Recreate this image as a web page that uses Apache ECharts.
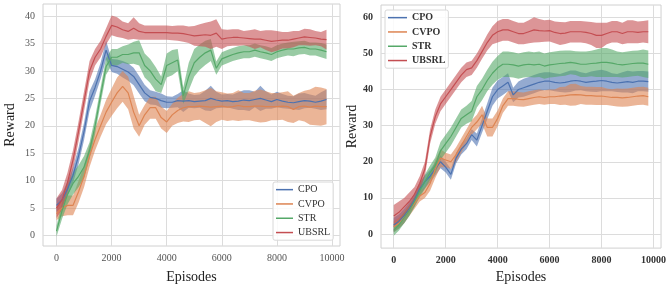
<!DOCTYPE html>
<html>
<head>
<meta charset="utf-8">
<script src="https://cdn.jsdelivr.net/npm/echarts@6/dist/echarts.min.js"></script>
<style>
html, body { margin: 0; padding: 0; background: #fff; }
#main { width: 669px; height: 289px; }
</style>
</head>
<body>
<div id="main"></div>
<script>
var episodes = [0, 200, 400, 600, 800, 1000, 1200, 1400, 1600, 1800,
    2000, 2200, 2400, 2600, 2800, 3000, 3200, 3400, 3600, 3800,
    4000, 4200, 4400, 4600, 4800, 5000, 5200, 5400, 5600, 5800,
    6000, 6200, 6400, 6600, 6800, 7000, 7200, 7400, 7600, 7800,
    8000, 8200, 8400, 8600, 8800, 9000, 9200, 9400, 9600, 9800];
var names = ['CPO', 'CVPO', 'STR', 'UBSRL'];
var xTicks = [0, 2000, 4000, 6000, 8000, 10000];
var yTicksLeft = [0, 5, 10, 15, 20, 25, 30, 35, 40];
var yTicksRight = [0, 10, 20, 30, 40, 50, 60];

// left panel: mean and half width of the band
var leftCpo = [5.5, 6.5, 8.5, 11, 14.5, 19, 24.5, 27, 30, 33.8, 31, 30.8, 30.3, 29.8, 29, 27.5, 26, 25.2, 25, 24.6,
    24.3, 24.3, 24.6, 24.5, 24.6, 24.4, 24.5, 24.6, 25, 24.7, 24.5, 24.6, 24.4, 24.5, 24.7, 24.6, 24.8, 25, 24.7, 24.4,
    24.8, 24.5, 24.3, 24.2, 24.4, 24.6, 24.5, 24.3, 24.5, 24.8];
var leftCpoBand = [1.2, 1.2, 1.3, 1.4, 1.5, 1.6, 1.8, 1.5, 1.5, 1.7, 1.2, 1.3, 1.5, 1.6, 1.6, 1.6, 1.5, 1.3, 1.2, 1.3,
    1.1, 1.0, 1.2, 2.0, 1.3, 1.2, 1.2, 1.8, 2.3, 1.5, 1.2, 1.2, 1.3, 1.6, 1.8, 1.9, 1.4, 2.3, 1.6, 1.3,
    1.4, 1.3, 1.2, 1.2, 1.5, 1.4, 1.2, 1.2, 1.6, 1.8];
var leftCvpo = [4, 5, 5.5, 5.5, 8, 10.8, 14.5, 17.5, 20, 22.5, 24.3, 26, 27.2, 26, 22.5, 20, 22, 23.3, 23.3, 21.5,
    20.7, 22, 22.8, 23.3, 23.5, 23.5, 23.6, 23.5, 23.4, 23.5, 23.6, 23.4, 23.5, 23.7, 23.5, 23.5, 23.6, 23.6, 23.5, 23.5,
    23.5, 23.6, 23.5, 23, 23.5, 23.6, 23.4, 23.6, 23.5, 23.5];
var leftCvpoBand = [1.2, 1.5, 1.8, 1.8, 2, 2, 2, 2, 2, 2.2, 2.5, 2.8, 2.8, 3, 3, 2, 1.8, 2, 2, 2,
    2, 2, 2.3, 2.5, 2.8, 2.5, 2.5, 3, 3.5, 2.8, 2.5, 2.5, 2.5, 2.8, 2.5, 2.5, 2.8, 3, 2.8, 2.5,
    2.5, 2.5, 2.8, 2.5, 2.5, 2.8, 3.2, 3.5, 3.5, 3.2];
var leftStr = [0.8, 4.5, 7.5, 9.5, 10.8, 12.5, 15.5, 20, 25.5, 30.8, 32.5, 32.5, 33, 33, 33.3, 33.3, 31, 30, 28.5, 27.5,
    31, 31.5, 32, 25.5, 29, 31.5, 32.5, 33.3, 33.8, 30.5, 32.2, 32.6, 33, 33.3, 33.5, 33.5, 33.8, 33.5, 33.3, 33,
    33.5, 33.8, 34, 34, 34.2, 34.3, 34, 34, 33.8, 33.5];
var leftStrBand = [1, 1.5, 1.8, 2, 2, 2, 1.5, 1.5, 1.5, 1.5, 1.5, 1.5, 1.5, 1.8, 2, 2.3, 2.2, 2.2, 2.2, 1.5,
    2.2, 2.3, 2, 1.5, 2.5, 2.5, 2.3, 2.2, 2, 1.2, 1.2, 1.2, 1.2, 1.2, 1.2, 1.2, 1.2, 1.2, 1.2, 1.2,
    1.2, 1.2, 1.2, 1.3, 1.2, 1.2, 1.2, 1.2, 1.3, 1.3];
var leftUbsrl = [5, 6.5, 9.7, 13.8, 19, 24.5, 30, 32.5, 34, 36.3, 38.3, 38, 37.5, 37.2, 37.8, 37.2, 37, 37, 37, 37,
    37, 36.9, 36.9, 36.8, 36.6, 36.4, 36.5, 36.6, 36.5, 36.9, 35.8, 36, 36.1, 36.1, 36, 35.9, 35.8, 35.8, 35.6, 35.4,
    35.5, 35.6, 35.6, 35.8, 36, 36.2, 36.1, 36, 35.8, 35.7];
var leftUbsrlBand = [1.8, 1.8, 1.8, 1.8, 1.8, 1.8, 1.8, 1.5, 1.5, 1.5, 1.8, 1.8, 1.5, 1.5, 2, 1.5, 1.3, 1.3, 1.3, 1.3,
    1.3, 1.3, 1.4, 1.5, 1.5, 1.8, 2, 2.2, 2.5, 2.5, 1.8, 1.5, 1.5, 1.5, 1.3, 1.5, 1.8, 1.5, 1.8, 2,
    1.8, 1.5, 1.5, 1.5, 1.3, 1.5, 1.5, 1.3, 1.3, 1.8];

// right panel
var rightCpo = [2.5, 3.5, 5, 7, 9.5, 12.5, 14.5, 16, 18, 20, 18.5, 16.5, 21, 23.5, 25, 27.5, 26, 30, 34, 38,
    40, 41, 42, 38.5, 40, 40.5, 41, 41.5, 42, 42.3, 42.3, 42, 41.8, 42, 42.3, 42.5, 42.3, 42, 42.2, 42.3,
    42.5, 42.3, 42, 41.8, 42, 42.2, 42, 42.3, 42.3, 42.2];
var rightCpoBand = [2, 2, 2, 1.8, 1.8, 1.8, 1.8, 1.8, 1.8, 1.8, 1.5, 1.5, 1.5, 1.5, 1.5, 1.5, 1.8, 2, 2.2, 2.5,
    2.5, 2.5, 2.5, 2, 2.2, 2.5, 2.5, 2.5, 2.5, 2.5, 2.5, 2.5, 2.5, 2.8, 3, 2.8, 2.5, 2.5, 2.8, 3,
    3, 2.8, 2.5, 2.5, 2.8, 3, 3, 2.8, 2.8, 2.8];
var rightCvpo = [2, 3, 4.5, 6.5, 8.5, 10.5, 11.5, 14, 18, 21, 20.5, 20, 22, 24.5, 27, 29.5, 31, 33, 29.5, 29.5,
    32, 35.5, 37.5, 37.5, 37.3, 37.2, 37.5, 37.8, 38, 37.8, 38, 38, 38.2, 38.3, 38.5, 38.6, 38.5, 38.3, 38.3, 38.2,
    38.2, 38, 37.8, 37.8, 37.7, 37.8, 38, 38.2, 38.3, 38];
var rightCvpoBand = [1.5, 1.5, 1.5, 1.5, 1.5, 1.5, 1.5, 2, 2.5, 2.5, 2, 2, 2, 2, 2, 2, 2, 2.5, 2.5, 2.5,
    2.2, 2, 2, 2, 2, 2, 2, 2, 2, 2, 2, 2, 2.5, 2.5, 3, 3, 2.5, 2.5, 2.5, 2.5,
    2.5, 2.3, 2.3, 2.5, 2.5, 2.5, 2.5, 2.5, 2.5, 2.5];
var rightStr = [1, 2.5, 4.5, 6.5, 9, 12, 14.5, 17, 19, 23, 25, 27, 29.5, 32, 33, 34, 38, 40, 42.5, 44.5,
    46, 47, 47, 46.8, 46.5, 46.8, 47, 46.8, 47, 46.5, 46.8, 47, 47.2, 47.3, 47.5, 47.3, 47, 47, 47.2, 47.3,
    47.5, 47.5, 47.3, 47, 46.8, 47, 47.2, 47.3, 47.3, 47];
var rightStrBand = [1.5, 1.5, 1.5, 1.5, 1.5, 1.8, 2, 2, 2.2, 2.5, 2.5, 2.5, 2.5, 2.5, 2.5, 2.8, 3, 3, 3, 3.2,
    3.3, 3.5, 3.5, 3.5, 3.5, 3.5, 3.5, 3.5, 3.5, 3.5, 3.5, 3.5, 3.5, 3.5, 3.3, 3.3, 3.5, 3.5, 3.5, 3.8,
    4, 4, 3.8, 3.5, 3.5, 3.5, 3.5, 3.5, 3.8, 3.8];
var rightUbsrl = [5, 6, 7.5, 9, 11, 14, 18, 27, 32.5, 36, 38, 40, 42, 44, 45.5, 46, 48, 50.5, 53, 55,
    56, 56.5, 56.5, 56, 55.5, 55.5, 56, 56.5, 56.3, 56.2, 56.3, 55.8, 55.5, 55.6, 56, 56, 56, 55.8, 55.5, 55,
    55, 55.5, 56, 56, 55.5, 56, 56, 55.8, 56, 56];
var rightUbsrlBand = [3, 3, 2.5, 2.5, 2, 2, 2, 2, 2, 2, 2, 2, 2, 2, 2, 2, 2, 2, 2.2, 2.5,
    3, 3, 3, 3, 3, 3, 3.2, 3.5, 3.2, 3, 3, 3, 3.2, 3, 3, 3, 3, 3, 3.2, 3.5,
    3.5, 3, 3, 3, 3, 3.2, 3.2, 3, 3, 3.2];

var colors = ['#4c72b0', '#dd8452', '#55a868', '#c44e52'];
var bandColors = ['rgba(76,114,176,0.6)', 'rgba(221,132,82,0.6)', 'rgba(85,168,104,0.6)', 'rgba(196,78,82,0.6)'];
var fontFamily = '"Liberation Serif", "DejaVu Serif", serif';

// band drawn as one polygon through the axis scales
function bandSeries(gi, k, mean, half) {
    var data = episodes.map(function (x, i) {
        return [x, mean[i] - half[i], mean[i] + half[i]];
    });
    return {
        type: 'custom',
        xAxisIndex: gi,
        yAxisIndex: gi,
        silent: true,
        encode: { x: 0, y: [1, 2] },
        data: data,
        renderItem: function (params, api) {
            if (params.dataIndex !== 0) return;
            var upper = [];
            var lower = [];
            for (var i = 0; i < data.length; i++) {
                upper.push(api.coord([data[i][0], data[i][2]]));
                lower.unshift(api.coord([data[i][0], data[i][1]]));
            }
            return {
                type: 'polygon',
                shape: { points: upper.concat(lower) },
                style: { fill: bandColors[k], stroke: null }
            };
        }
    };
}

function meanSeries(gi, k, mean) {
    return {
        name: names[k],
        type: 'line',
        xAxisIndex: gi,
        yAxisIndex: gi,
        symbol: 'none',
        silent: true,
        lineStyle: { color: colors[k], width: 1.2 },
        itemStyle: { color: colors[k] },
        data: episodes.map(function (x, i) { return [x, mean[i]]; })
    };
}

var leftData = [[leftCpo, leftCpoBand], [leftCvpo, leftCvpoBand], [leftStr, leftStrBand], [leftUbsrl, leftUbsrlBand]];
var rightData = [[rightCpo, rightCpoBand], [rightCvpo, rightCvpoBand], [rightStr, rightStrBand], [rightUbsrl, rightUbsrlBand]];

var series = [];
leftData.forEach(function (d, k) {
    series.push(bandSeries(0, k, d[0], d[1]));
    series.push(meanSeries(0, k, d[0]));
});
rightData.forEach(function (d, k) {
    series.push(bandSeries(1, k, d[0], d[1]));
    series.push(meanSeries(1, k, d[0]));
});

function plain(v) { return String(v); }

function xAxisOf(gi, gap, bold) {
    return {
        type: 'value',
        gridIndex: gi,
        min: -490,
        max: 10290,
        name: 'Episodes',
        nameLocation: 'middle',
        nameGap: gap,
        nameTextStyle: { fontFamily: fontFamily, fontSize: 14, color: '#222' },
        axisLine: { show: false },
        axisTick: { show: false, customValues: xTicks },
        axisLabel: { customValues: xTicks, formatter: plain, fontFamily: fontFamily, fontSize: 10, color: bold ? '#333' : '#555', fontWeight: bold ? 'bold' : 'normal', margin: 7 },
        splitLine: { show: true, lineStyle: { color: '#dcdcdc', width: 1 } }
    };
}

function yAxisOf(gi, min, max, ticks, gap, bold) {
    return {
        type: 'value',
        gridIndex: gi,
        min: min,
        max: max,
        name: 'Reward',
        nameLocation: 'middle',
        nameGap: gap,
        nameTextStyle: { fontFamily: fontFamily, fontSize: 14, color: '#222' },
        axisLine: { show: false },
        axisTick: { show: false, customValues: ticks },
        axisLabel: { customValues: ticks, formatter: plain, fontFamily: fontFamily, fontSize: 10, color: bold ? '#333' : '#555', fontWeight: bold ? 'bold' : 'normal', margin: 8 },
        splitLine: { show: true, lineStyle: { color: '#dcdcdc', width: 1 } }
    };
}

function legendOf(left, top, w, bold) {
    return {
        orient: 'vertical',
        left: left,
        top: top,
        data: names,
        icon: 'rect',
        itemWidth: w,
        itemHeight: 1.5,
        itemGap: 3,
        padding: [2, 3, 2, 3],
        backgroundColor: 'rgba(255,255,255,0.85)',
        borderColor: '#d8d8d8',
        borderWidth: 1,
        borderRadius: 2,
        selectedMode: false,
        textStyle: { fontFamily: fontFamily, fontSize: 10, color: '#333', fontWeight: bold ? 'bold' : 'normal', lineHeight: 11.3 }
    };
}

var chart = echarts.init(document.getElementById('main'), null, { renderer: 'canvas' });
chart.setOption({
    backgroundColor: '#fff',
    animation: false,
    grid: [
        { left: 43, top: 4, width: 297, height: 243, show: true, borderColor: '#d0d0d0', borderWidth: 1, backgroundColor: 'transparent' },
        { left: 381, top: 5, width: 282, height: 244, show: true, borderColor: '#d0d0d0', borderWidth: 1, backgroundColor: 'transparent' }
    ],
    xAxis: [xAxisOf(0, 24, false), xAxisOf(1, 21, true)],
    yAxis: [yAxisOf(0, -1.9, 42.2, yTicksLeft, 26, false), yAxisOf(1, -3.9, 63.4, yTicksRight, 22, true)],
    legend: [legendOf(273, 182, 17, false), legendOf(385, 10, 19, true)],
    series: series
});
</script>
</body>
</html>
